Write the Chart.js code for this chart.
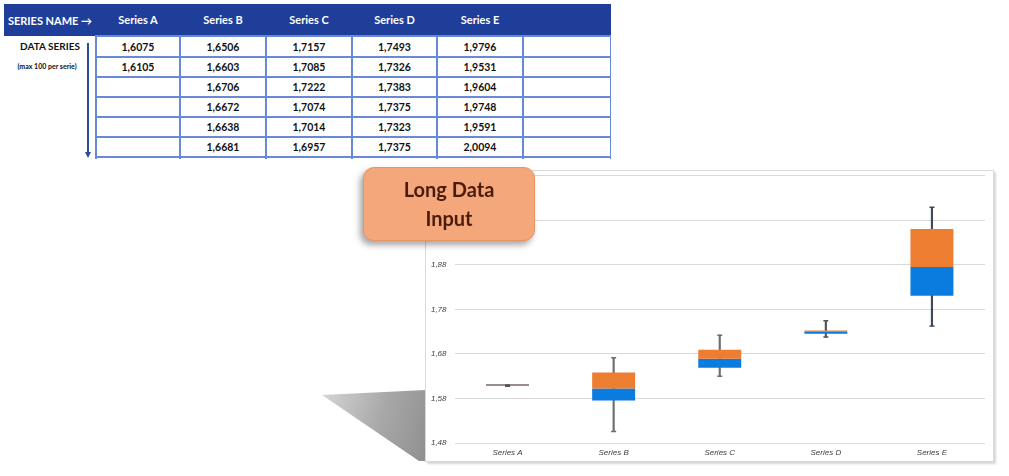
<!DOCTYPE html>
<html>
<head>
<meta charset="utf-8">
<script src="https://cdn.jsdelivr.net/npm/chart.js@4.4.1/dist/chart.umd.min.js"></script>
<style>
html, body { margin: 0; padding: 0; background: #fff; width: 1009px; height: 476px; overflow: hidden; }
body { position: relative; font-family: Lato, "Liberation Sans", sans-serif; }
#tblWrap { position: absolute; left: 4px; top: 4px; width: 607px; height: 155px; overflow: hidden; }
#tbl { border-collapse: collapse; table-layout: fixed; width: 607px; }
#tbl th { background: #1F3E9A; color: #fff; font-weight: bold; font-size: 11px; height: 31px; padding: 0; border: none; text-align: center; }
#tbl td { border: 2px solid #6A88D8; height: 18px; padding: 0; font-weight: bold; font-size: 10.5px; text-align: center; color: #111; }
#tbl td.first { border: none; border-right: 2px solid #6A88D8; }
#tbl tr.r1 td { height: 19px; }
#dataLabel { position: absolute; left: 4px; top: 40px; width: 92px; text-align: center; font-weight: bold; font-size: 10px; color: #111; }
#maxLabel { position: absolute; left: 4px; top: 62px; width: 86px; text-align: center; font-weight: bold; font-size: 7px; color: #111; }
#arrowLine { position: absolute; left: 87px; top: 43px; width: 2px; height: 110px; background: #2B4BA0; }
#arrowHead { position: absolute; left: 85px; top: 152px; width: 0; height: 0; border-left: 3px solid transparent; border-right: 3px solid transparent; border-top: 6px solid #2B4BA0; }
#wedge { position: absolute; left: 318px; top: 385px; width: 110px; height: 80px;
  background: linear-gradient(105deg, #dadada 0%, #a8a8a8 55%, #8e8e8e 100%);
  clip-path: polygon(4px 10px, 108px 5px, 108px 76px, 101px 76px); }
#frame { position: absolute; left: 425px; top: 170px; width: 567px; height: 290px; background: #fff;
  border: 1px solid #d9d9d9; box-shadow: 2px 2px 2px rgba(0,0,0,0.16); }
#chartBox { position: absolute; left: 0; top: -8px; width: 567px; height: 299px; }
#callout { position: absolute; left: 363px; top: 167px; width: 170px; height: 72px; background: #F4A77B;
  border: 1px solid #E59466; border-radius: 11px; box-shadow: -3px 4px 6px rgba(0,0,0,0.35);
  color: #4B1B0B; font-weight: bold; font-size: 20px; line-height: 29px; text-align: center;
  display: flex; flex-direction: column; justify-content: center; }
</style>
</head>
<body>
<div id="tblWrap"><table id="tbl"></table></div>
<div id="dataLabel">DATA SERIES</div>
<div id="maxLabel">(max 100 per serie)</div>
<div id="arrowLine"></div>
<div id="arrowHead"></div>

<div id="wedge"></div>
<div id="frame"><div id="chartBox"><canvas id="boxChart"></canvas></div></div>
<div id="callout"><div>Long Data</div><div>Input</div></div>

<script>
// table input shown above the chart
const tableHeaders = ['SERIES NAME \u2192', 'Series A', 'Series B', 'Series C', 'Series D', 'Series E', ''];
const inputA = ['1,6075', '1,6105'];
const inputB = ['1,6506', '1,6603', '1,6706', '1,6672', '1,6638', '1,6681'];
const inputC = ['1,7157', '1,7085', '1,7222', '1,7074', '1,7014', '1,6957'];
const inputD = ['1,7493', '1,7326', '1,7383', '1,7375', '1,7323', '1,7375'];
const inputE = ['1,9796', '1,9531', '1,9604', '1,9748', '1,9591', '2,0094'];

// box plot values
const categories = ['Series A', 'Series B', 'Series C', 'Series D', 'Series E'];
const whiskerLow  = [1.6075, 1.5060, 1.6300, 1.7178, 1.7425];
const q1          = [1.6084, 1.5755, 1.6488, 1.7252, 1.8106];
const median      = [1.6091, 1.6025, 1.6690, 1.7290, 1.8750];
const q3          = [1.6098, 1.6384, 1.6892, 1.7328, 1.9604];
const whiskerHigh = [1.6105, 1.6712, 1.7222, 1.7544, 2.0094];
const yTickValues = [1.48, 1.58, 1.68, 1.78, 1.88, 1.98, 2.08];

function buildTable() {
    const tbl = document.getElementById('tbl');
    const widths = [92, 84, 86, 86, 85, 86, 88];
    let html = '<colgroup>' + widths.map(w => `<col style="width:${w}px">`).join('') + '</colgroup>';
    html += '<tr>' + tableHeaders.map(h => `<th>${h}</th>`).join('') + '</tr>';
    const cols = [inputA, inputB, inputC, inputD, inputE];
    for (let r = 0; r < 7; r++) {
        html += `<tr class="r${r + 1}">`;
        if (r === 0) html += '<td class="first" rowspan="7"></td>';
        cols.forEach(c => { html += `<td>${c[r] || ''}</td>`; });
        html += '<td></td></tr>';
    }
    tbl.innerHTML = html;
}
buildTable();

const tickFont = { family: '"Liberation Sans", sans-serif', size: 8, style: 'italic' };
const whiskerColor = ['#4f5560', '#6e6e6e', '#6e6e6e', '#4f5560', '#3f4a5c'];

const ctx = document.getElementById('boxChart').getContext('2d');
new Chart(ctx, {
    type: 'bar',
    data: {
        labels: categories,
        datasets: [
            {
                label: 'Q1 - Median',
                data: categories.map((c, i) => [q1[i], median[i]]),
                backgroundColor: '#0A7BDF',
                grouped: false,
                categoryPercentage: 1,
                barPercentage: 0.405,
                minBarLength: 1.5,
                order: 2
            },
            {
                label: 'Median - Q3',
                data: categories.map((c, i) => [median[i], q3[i]]),
                backgroundColor: '#ED7D31',
                grouped: false,
                categoryPercentage: 1,
                barPercentage: 0.405,
                minBarLength: 1,
                order: 1
            },
            {
                label: 'Whisker',
                data: categories.map((c, i) => [whiskerLow[i], whiskerHigh[i]]),
                backgroundColor: whiskerColor,
                grouped: false,
                barThickness: 1.5,
                order: 3
            },
            {
                type: 'line',
                label: 'Min',
                data: whiskerLow,
                showLine: false,
                pointStyle: 'line',
                pointRadius: 2.5,
                borderWidth: 1.5,
                borderColor: whiskerColor,
                order: 0
            },
            {
                type: 'line',
                label: 'Max',
                data: whiskerHigh,
                showLine: false,
                pointStyle: 'line',
                pointRadius: 2.5,
                borderWidth: 1.5,
                borderColor: whiskerColor,
                order: 0
            }
        ]
    },
    options: {
        responsive: true,
        maintainAspectRatio: false,
        animation: false,
        layout: { padding: { top: 4, right: 8, left: 0, bottom: 0 } },
        plugins: { legend: { display: false }, tooltip: { enabled: false } },
        scales: {
            x: {
                grid: { display: false, drawTicks: false },
                border: { display: false },
                ticks: { color: '#404040', font: tickFont, padding: 5 },
                afterFit: s => { s.height = 19; }
            },
            y: {
                min: 1.48,
                max: 2.08,
                afterBuildTicks: s => { s.ticks = yTickValues.map(v => ({ value: v })); },
                grid: { color: '#d9d9d9', drawTicks: false },
                border: { display: false },
                ticks: {
                    color: '#404040',
                    font: tickFont,
                    padding: 8,
                    callback: v => v.toFixed(2).replace('.', ',')
                },
                afterFit: s => { s.width = 28.5; }
            }
        }
    }
});
</script>
</body>
</html>
